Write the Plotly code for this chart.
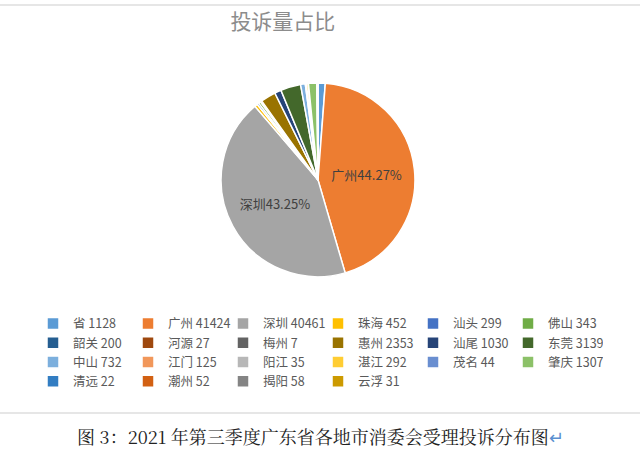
import plotly.graph_objects as go

cities = ["省", "广州", "深圳", "珠海", "汕头", "佛山", "韶关", "河源", "梅州", "惠州", "汕尾",
          "东莞", "中山", "江门", "阳江", "湛江", "茂名", "肇庆", "清远", "潮州", "揭阳", "云浮"]
counts = [1128, 41424, 40461, 452, 299, 343, 200, 27, 7, 2353, 1030,
          3139, 732, 125, 35, 292, 44, 1307, 22, 52, 58, 31]
colors = ["#5B9BD5", "#ED7D31", "#A5A5A5", "#FFC000", "#4472C4", "#70AD47", "#255E91",
          "#9E480E", "#636363", "#997300", "#264478", "#43682B", "#7CAFDD", "#F1975A",
          "#B7B7B7", "#FFCD33", "#698ED0", "#8CC168", "#327DC2", "#D26012", "#848484", "#CC9A00"]
shown_labels = ["广州", "深圳"]

FONT = "Noto Sans CJK SC"
legend_names = [f"{c} {v}" for c, v in zip(cities, counts)]

W, H = 640, 453
R = 30                 # right margin, keeps the legend to six columns
PW = W - R             # plot-area width in px


def px(x):
    return x / PW


fig = go.Figure(go.Pie(
    labels=legend_names,
    values=counts,
    sort=False,
    direction="clockwise",
    rotation=0,
    marker=dict(colors=colors, line=dict(color="white", width=1.5)),
    text=cities,
    texttemplate=[("%{text}%{percent:.2%}" if c in shown_labels else "") for c in cities],
    textposition="inside",
    insidetextorientation="horizontal",
    textfont=dict(family=FONT, size=13, color="#404040"),
    hoverinfo="label+percent",
    domain=dict(x=[px(221), px(415)], y=[0.389, 0.817]),
))

fig.update_layout(
    width=W, height=H,
    margin=dict(l=0, r=R, t=0, b=0),
    paper_bgcolor="white",
    font=dict(family=FONT, color="#595959"),
    title=dict(text="投诉量占比", x=0.442, xanchor="center", y=0.952, yanchor="middle",
               font=dict(family=FONT, size=21, color="#8c8c8c")),
    showlegend=True,
    legend=dict(orientation="h", x=px(33), xanchor="left", y=0.318, yanchor="top",
                font=dict(family=FONT, size=12.5, color="#595959"),
                entrywidth=50, entrywidthmode="pixels", traceorder="normal"),
    shapes=[
        dict(type="line", xref="paper", yref="paper", x0=0, x1=px(W), y0=1 - 5 / H, y1=1 - 5 / H,
             line=dict(color="#e6e6e6", width=2)),
        dict(type="line", xref="paper", yref="paper", x0=0, x1=px(W), y0=1 - 413 / H, y1=1 - 413 / H,
             line=dict(color="#e6e6e6", width=2)),
    ],
    annotations=[
        dict(text="图 3：2021 年第三季度广东省各地市消委会受理投诉分布图<span style='color:#5b8fd0'>↵</span>",
             xref="paper", yref="paper", x=px(320), y=1 - 436 / H, xanchor="center", yanchor="middle",
             showarrow=False, font=dict(family="Noto Serif CJK SC, Noto Sans CJK SC", size=18, color="#222222")),
    ],
)

fig.write_html("out.html")
